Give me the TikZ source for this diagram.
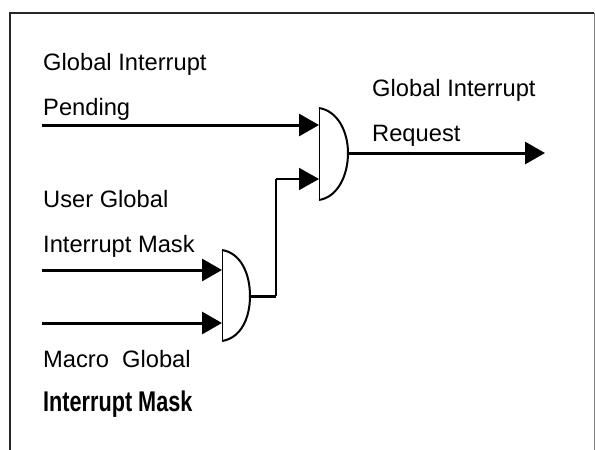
\documentclass[tikz,border=0pt]{standalone}
\usepackage{fontspec}
\setmainfont{Liberation Sans}
\usetikzlibrary{arrows.meta}
\begin{document}
\begin{tikzpicture}[x=1pt,y=-1pt,
  lbl/.style={anchor=base west,inner sep=0pt,font=\fontsize{23.7}{28}\selectfont},
  wire/.style={line width=3pt},
  thinwire/.style={line width=2pt},
  arr/.style={-{Triangle[length=20pt,width=22pt]}},
  gateback/.style={line width=1pt},
  gatecurve/.style={line width=2pt}]
\useasboundingbox (0,0) rectangle (595,450);
% frame
\draw[line width=2pt,black!85] (10,460) -- (10,13) -- (594,13);
\draw[line width=1pt,black!50] (594,13) -- (594,460);
% gate 1
\coordinate (g1t) at (319,108);
\coordinate (g1b) at (319,200);
\coordinate (g1a) at (319,125);
\coordinate (g1c) at (319,179);
\coordinate (g1o) at (348,153);
\draw[gateback] (g1t) -- (g1b);
\draw[gatecurve] (g1t) .. controls (338,111) and (348,132) .. (g1o) .. controls (348,175) and (338,197) .. (g1b);
% gate 2
\coordinate (g2t) at (222,250);
\coordinate (g2b) at (222,341);
\coordinate (g2a) at (222,270);
\coordinate (g2c) at (222,323);
\coordinate (g2o) at (250,296);
\draw[gateback] (g2t) -- (g2b);
\draw[gatecurve] (g2t) .. controls (241,253) and (250,274) .. (g2o) .. controls (250,318) and (241,338) .. (g2b);
% inputs
\coordinate (inP) at (42,125);
\coordinate (inU) at (42,270);
\coordinate (inM) at (42,323);
\coordinate (bendA) at (276,296);
\coordinate (bendB) at (276,179);
\coordinate (outR) at (545,153);
\draw[wire,arr] (inP) -- (g1a);
\draw[wire,arr] (inU) -- (g2a);
\draw[wire,arr] (inM) -- (g2c);
\draw[wire] (g2o) -- (bendA);
\draw[thinwire] (bendA) -- (bendB);
\draw[thinwire,arr] (bendB) -- (g1c);
\draw[wire,arr] (g1o) -- (outR);
% labels
\node[lbl] (t1) at (43,70) {Global Interrupt};
\node[lbl] (t2) at (43,115) {Pending};
\node[lbl] (t3) at (43,207) {User Global};
\node[lbl] (t4) at (43,252) {Interrupt Mask};
\node[lbl] (t5) at (43,367) {Macro\ \ Global};
\node[anchor=base west,inner sep=0pt] (t6) at (43,411) {\scalebox{0.76}[1]{\fontsize{28.5}{34}\selectfont\bfseries Interrupt Mask}};
\node[lbl] (t7) at (372,96) {Global Interrupt};
\node[lbl] (t8) at (372,141) {Request};
\end{tikzpicture}
\end{document}
